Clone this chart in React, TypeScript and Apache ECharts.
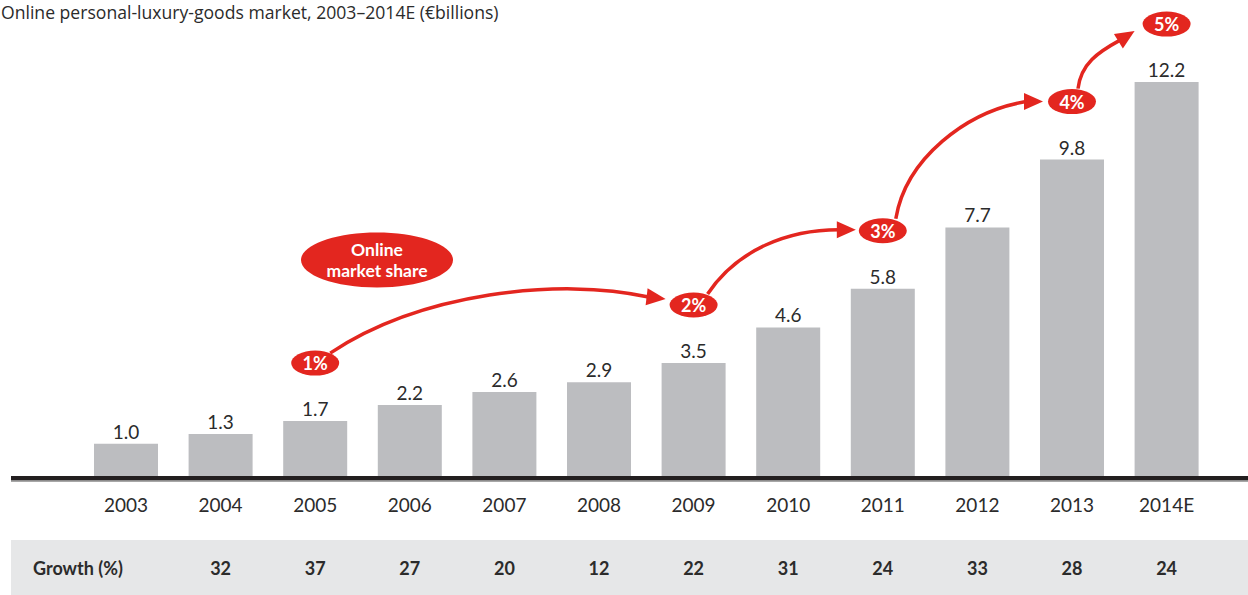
import React, { useEffect, useRef } from "react";
import * as echarts from "echarts";

const titleText = "Online personal-luxury-goods market, 2003–2014E (€billions)";
const years = ["2003", "2004", "2005", "2006", "2007", "2008", "2009", "2010", "2011", "2012", "2013", "2014E"];
const marketValues = [1.0, 1.3, 1.7, 2.2, 2.6, 2.9, 3.5, 4.6, 5.8, 7.7, 9.8, 12.2];
const growthPct: (number | null)[] = [null, 32, 37, 27, 20, 12, 22, 31, 24, 33, 28, 24];
const shareYears = ["2005", "2009", "2011", "2013", "2014E"];
const shareValues = [1, 2, 3, 4, 5];
const growthLabel = "Growth (%)";
const shareCaption = "Online\nmarket share";

const RED = "#E3261F";
const BAR = "#BCBDC0";
const TEXT = "#2b2b2b";
const FONT = "Lato, 'Open Sans', sans-serif";
const TITLE_FONT = "'Open Sans', Lato, sans-serif";
const ELLIPSE_LIFT = 58;

// arrow geometry (offsets relative to source/target ellipse centres)
const arrowShapes = [
  { s: [15, -10], e: [-45, -8], tip: [-28, -6], c1: [90, -60], c2: [-90, -20] },
  { s: [14, -11], e: [-44, -1], tip: [-27, -1], c1: [30, -45], c2: [-50, 0] },
  { s: [13, -12], e: [-46, 0], tip: [-29, 0], c1: [10, -60], c2: [-60, 10] },
  { s: [6, -13], e: [-46.5, 16], tip: [-32, 7], c1: [3, -25], c2: [-22, 12] },
];

const ellipsePath = "path://M0 12.5A24 12.5 0 1 0 48 12.5A24 12.5 0 1 0 0 12.5Z";

export default function App() {
  const ref = useRef<HTMLDivElement>(null);
  useEffect(() => {
    if (!ref.current) return;
    const chart = echarts.init(ref.current, undefined, { renderer: "svg" });
    const scatterData = years.map((y, i) => {
      const k = shareYears.indexOf(y);
      return k >= 0 ? { value: marketValues[i], share: shareValues[k] } : "-";
    });
    chart.setOption({
      animation: false,
      backgroundColor: "#ffffff",
      title: {
        text: titleText,
        left: 1,
        top: 3,
        padding: 0,
        textStyle: { fontFamily: TITLE_FONT, fontSize: 17.6, fontWeight: "normal", color: TEXT },
      },
      grid: { left: 78.7, width: 1135.2, top: 24, height: 452 },
      xAxis: [
        {
          type: "category",
          data: years,
          z: 10,
          axisLine: { show: false },
          axisTick: { show: false },
          axisLabel: { margin: 19, fontFamily: FONT, fontSize: 19, lineHeight: 19, color: TEXT },
        },
        {
          type: "category",
          data: years,
          position: "bottom",
          z: 10,
          axisLine: { show: false },
          axisTick: { show: false },
          axisLabel: {
            margin: 83,
            fontFamily: FONT,
            fontSize: 18,
            lineHeight: 18,
            fontWeight: "bold",
            color: TEXT,
            formatter: (_v: string, idx: number) => (growthPct[idx] == null ? "" : String(growthPct[idx])),
          },
        },
      ],
      yAxis: { type: "value", min: 0, max: 14, show: false },
      series: [
        {
          type: "bar",
          data: marketValues,
          barWidth: 64,
          itemStyle: { color: BAR },
          label: {
            show: true,
            position: "top",
            distance: 3,
            fontFamily: FONT,
            fontSize: 19,
            color: TEXT,
            formatter: (p: any) => p.value.toFixed(1),
          },
          z: 2,
        },
        {
          type: "scatter",
          data: scatterData,
          symbol: ellipsePath,
          symbolSize: [48, 25],
          symbolOffset: [0, -ELLIPSE_LIFT],
          clip: false,
          itemStyle: { color: RED, opacity: 1 },
          label: {
            show: true,
            position: "inside",
            fontFamily: FONT,
            fontSize: 18,
            fontWeight: "bold",
            color: "#ffffff",
            formatter: (p: any) => `${p.data.share}%`,
          },
          z: 6,
        },
      ],
    });

    const centers = shareYears.map((y) => {
      const i = years.indexOf(y);
      const p = chart.convertToPixel({ xAxisIndex: 0, yAxisIndex: 0 }, [y, marketValues[i]]) as number[];
      return [p[0], p[1] - ELLIPSE_LIFT];
    });

    const arrows: any[] = [];
    for (let i = 0; i < centers.length - 1; i++) {
      const a = arrowShapes[i];
      const src = centers[i];
      const dst = centers[i + 1];
      const S = [src[0] + a.s[0], src[1] + a.s[1]];
      const E = [dst[0] + a.e[0], dst[1] + a.e[1]];
      const T = [dst[0] + a.tip[0], dst[1] + a.tip[1]];
      const C1 = [S[0] + a.c1[0], S[1] + a.c1[1]];
      const C2 = [E[0] + a.c2[0], E[1] + a.c2[1]];
      arrows.push({
        type: "bezierCurve",
        z: 4,
        shape: { x1: S[0], y1: S[1], cpx1: C1[0], cpy1: C1[1], cpx2: C2[0], cpy2: C2[1], x2: E[0], y2: E[1] },
        style: { stroke: RED, lineWidth: 3.5, fill: null },
      });
      const dx = T[0] - E[0];
      const dy = T[1] - E[1];
      const len = Math.hypot(dx, dy) || 1;
      const px = (-dy / len) * 8.5;
      const py = (dx / len) * 8.5;
      const bx = E[0] - (dx / len) * 2;
      const by = E[1] - (dy / len) * 2;
      arrows.push({
        type: "polygon",
        z: 4,
        shape: { points: [[T[0], T[1]], [bx + px, by + py], [bx - px, by - py]] },
        style: { fill: RED },
      });
    }

    const baseY = (chart.convertToPixel({ yAxisIndex: 0 }, 0) as number);

    chart.setOption({
      graphic: [
        { type: "rect", z: 0, shape: { x: 11, y: 540, width: 1237, height: 55 }, style: { fill: "#E6E7E8" } },
        {
          type: "text",
          z: 11,
          x: 33,
          y: 568,
          style: { text: growthLabel, fontFamily: FONT, fontSize: 18, fontWeight: "bold", fill: TEXT, align: "left", verticalAlign: "middle" },
        },
        { type: "rect", z: 12, shape: { x: 11, y: baseY, width: 1237, height: 4.5 }, style: { fill: "#231F20" } },
        { type: "rect", z: 12, shape: { x: 11, y: baseY + 4.5, width: 1237, height: 1.2 }, style: { fill: "#8a8a8a" } },
        ...arrows,
        { type: "ellipse", z: 6, shape: { cx: 377, cy: 260, rx: 76, ry: 27.5 }, style: { fill: RED } },
        {
          type: "text",
          z: 7,
          x: 377,
          y: 260,
          style: {
            text: shareCaption,
            fontFamily: FONT,
            fontSize: 17.5,
            fontWeight: "bold",
            lineHeight: 21,
            fill: "#ffffff",
            align: "center",
            verticalAlign: "middle",
          },
        },
      ],
    });

    return () => chart.dispose();
  }, []);
  return <div ref={ref} style={{ position: "fixed", left: 0, top: 0, width: 1248, height: 595 }} />;
}
